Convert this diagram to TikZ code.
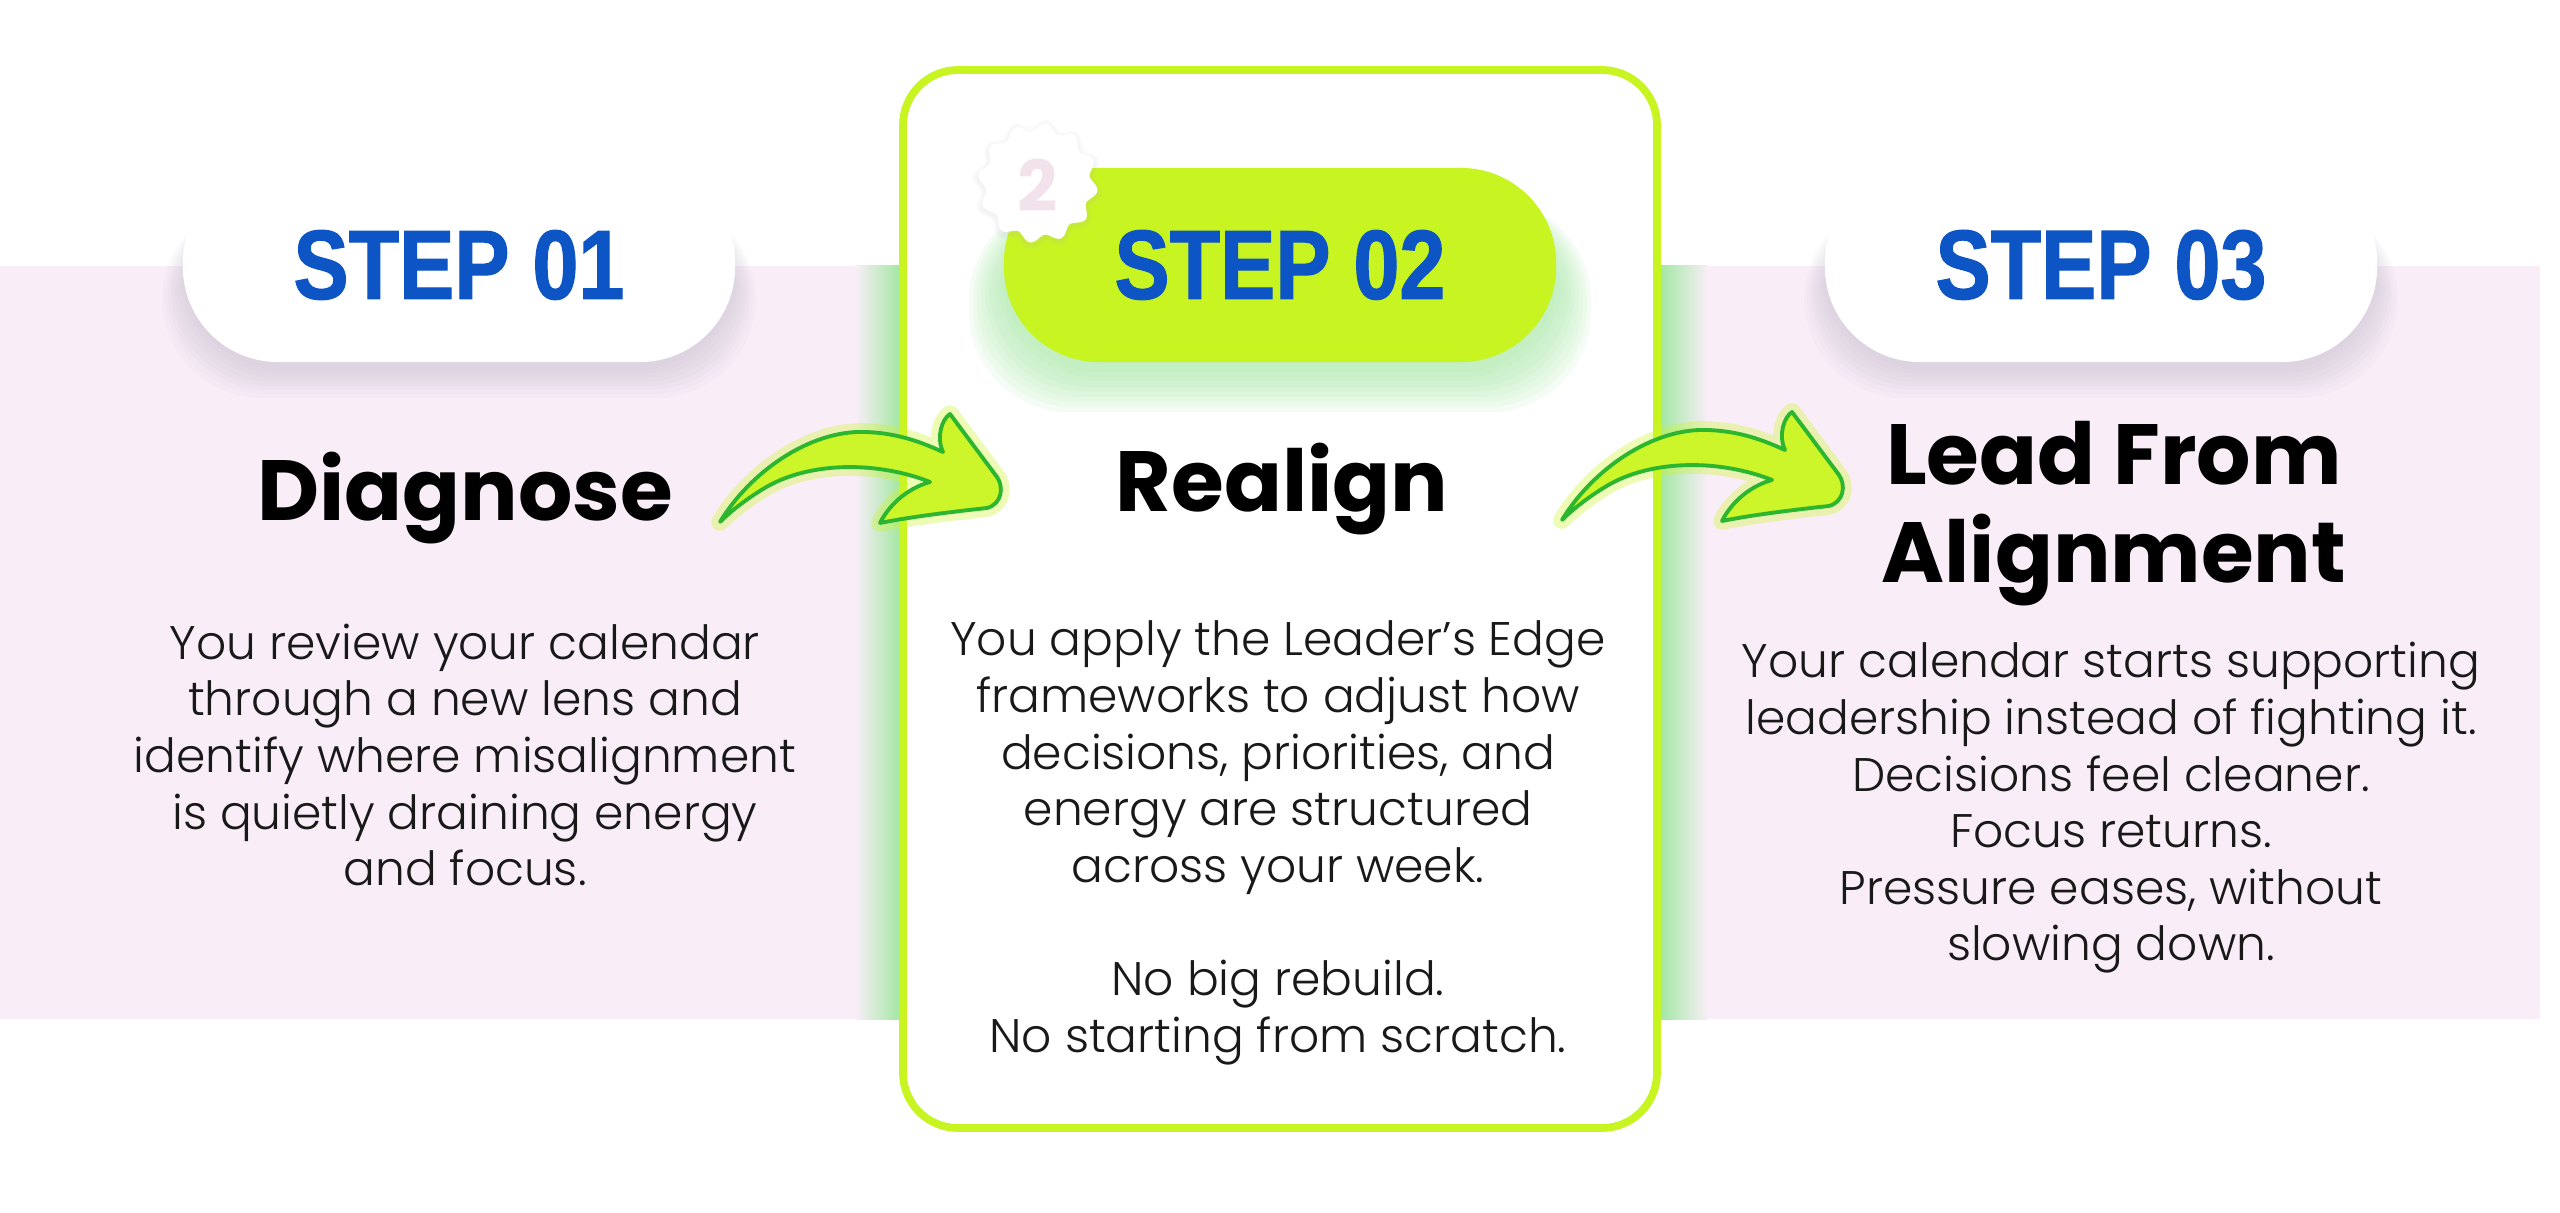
\documentclass[tikz,border=0pt]{standalone}
\usepackage{fontspec}
\setmainfont{Poppins}
\newfontfamily\bodyfont{Poppins Light}
\newfontfamily\stepfont{Liberation Sans}[FakeStretch=0.84,FakeBold=1.2]
\definecolor{bandpink}{HTML}{F9EEF8}
\definecolor{lime}{HTML}{C8F522}
\definecolor{glowgreen}{HTML}{9BE79B}
\definecolor{pillshade}{HTML}{B9AFC4}
\definecolor{arrowlime}{HTML}{CCF52A}
\definecolor{arrowgreen}{HTML}{2CB52F}
\definecolor{stepblue}{HTML}{0D55C4}
\definecolor{badgepink}{HTML}{F1E2EC}
\tikzset{
  pill/.style={minimum width=5.52cm,minimum height=1.94cm,rounded corners=.95cm,inner sep=0pt,
    font=\stepfont\bfseries\fontsize{28}{32}\selectfont,text=stepblue},
  headline/.style={font=\bfseries\fontsize{24.3}{27.9}\selectfont,align=center,text=black},
  blurb/.style={font=\bodyfont\fontsize{13.4}{16.1}\selectfont,align=center,text=black!90},
  curlarrow/.pic={
    \draw[draw=arrowlime,line width=5pt,opacity=.35,line join=round]
      (0,0) .. controls (30,-50) and (90,-92) .. (145,-90) .. controls (180,-89) and (205,-78) .. (223,-70)
      .. controls (216,-85) and (222,-103) .. (230,-108) -- (277,-45)
      .. controls (284,-35) and (282,-18) .. (267,-14) .. controls (230,-10) and (190,-5) .. (160,1)
      .. controls (168,-15) and (185,-33) .. (210,-40) .. controls (160,-60) and (90,-62) .. (43,-33)
      .. controls (25,-22) and (10,-10) .. (0,0) -- cycle;
    \draw[fill=arrowlime,draw=arrowgreen,line width=1.1pt,line join=round]
      (0,0) .. controls (30,-50) and (90,-92) .. (145,-90) .. controls (180,-89) and (205,-78) .. (223,-70)
      .. controls (216,-85) and (222,-103) .. (230,-108) -- (277,-45)
      .. controls (284,-35) and (282,-18) .. (267,-14) .. controls (230,-10) and (190,-5) .. (160,1)
      .. controls (168,-15) and (185,-33) .. (210,-40) .. controls (160,-60) and (90,-62) .. (43,-33)
      .. controls (25,-22) and (10,-10) .. (0,0) -- cycle;}
}

\begin{document}
\begin{tikzpicture}[x=0.01cm,y=-0.01cm]
\useasboundingbox (0,0) rectangle (2560,1213);
\fill[white] (0,0) rectangle (2560,1213);
\fill[bandpink] (0,266) rectangle (2540,1019);
% green glow beside the middle card
\shade[left color=bandpink,right color=glowgreen] (855,266) rectangle (904,1019);
\shade[left color=glowgreen,right color=bandpink] (1656,266) rectangle (1708,1019);
\draw[line width=2.2pt,draw=lime,fill=white,rounded corners=.55cm] (903,70) rectangle (1657,1128);
% soft shadows under the pills
\foreach \cx in {459,2101}\foreach \k in {0,...,7}
  \fill[pillshade,opacity=.06,rounded corners=1cm] (\cx-276-\k*3,200) rectangle (\cx+276+\k*3,370+\k*4);
\foreach \k in {0,...,8}
  \fill[glowgreen,opacity=.09,rounded corners=1cm] (1001-\k*4,200) rectangle (1559+\k*4,372+\k*5);
\node[pill,fill=white] (step1) at (459,265) {STEP 01};
\node[pill,fill=lime] (step2) at (1280,265) {STEP 02};
\node[pill,fill=white] (step3) at (2101,265) {STEP 03};
% badge
\foreach \k in {1,...,4}
  \fill[pillshade,opacity=.035,shift={(1038,185)}] plot[domain=0:360,samples=120,smooth] (\x:{56+\k*1.5+4*sin(12*\x)}) -- cycle;
\fill[white,shift={(1038,183)}] plot[domain=0:360,samples=120,smooth] (\x:{56+4*sin(12*\x)}) -- cycle;
\node[font=\bfseries\fontsize{20}{24}\selectfont,text=badgepink] (badge) at (1038,185) {2};
% titles
\node[headline] (t1) at (465,498) {Diagnose};
\node[headline] (t2) at (1282,489) {Realign};
\node[headline] (t3) at (2114,514) {Lead From\\Alignment};
% body texts
\node[blurb] (b1) at (465,755) {You review your calendar\\through a new lens and\\identify where misalignment\\is quietly draining energy\\and focus.};
\node[blurb] (b2) at (1278,843) {You apply the Leader’s Edge\\frameworks to adjust how\\decisions, priorities, and\\energy are structured\\across your week.\\[16.1pt]No big rebuild.\\No starting from scratch.};
\node[blurb] (b3) at (2111,808) {Your calendar starts supporting\\leadership instead of fighting it.\\Decisions feel cleaner.\\Focus returns.\\Pressure eases, without\\slowing down.};
% arrows
\coordinate (curl1) at (720,522);
\coordinate (curl2) at (1562,520);
\pic at (curl1) {curlarrow};
\pic at (curl2) {curlarrow};
\end{tikzpicture}
\end{document}
